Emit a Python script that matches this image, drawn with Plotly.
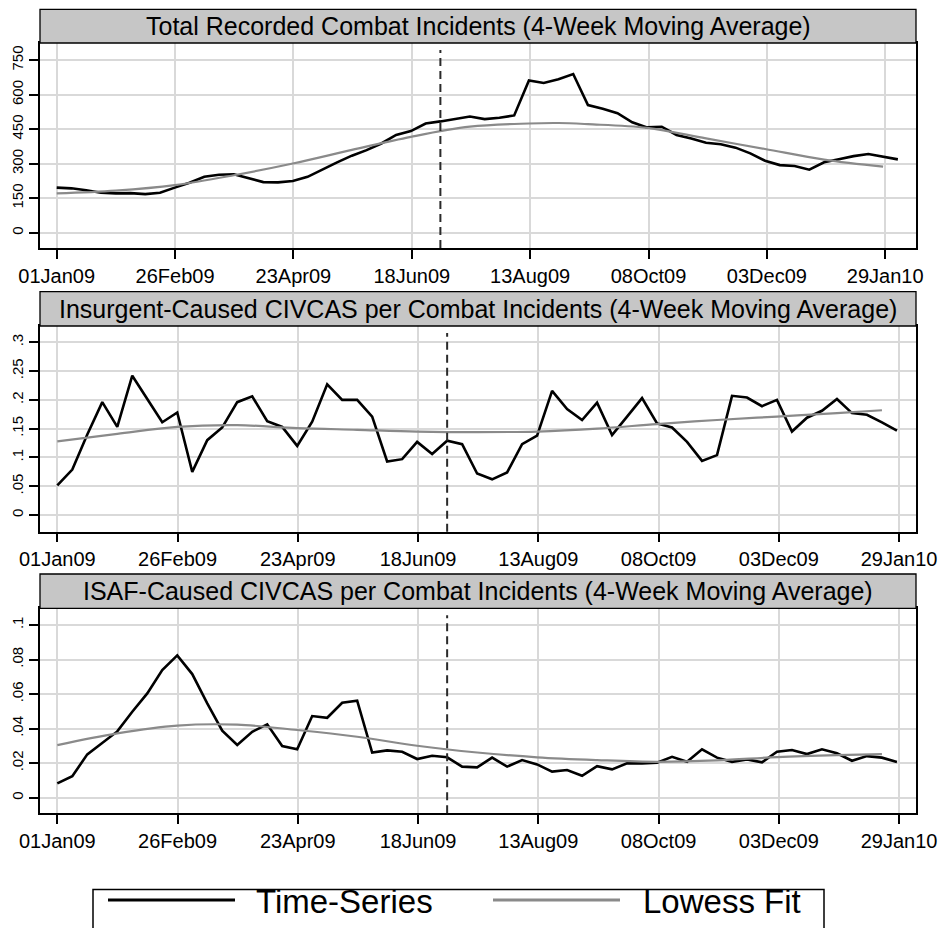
import pandas as pd
import plotly.graph_objects as go

W, H = 945, 928
FONT = "Liberation Sans"

# ---------------- data ----------------
start = pd.Timestamp("2009-01-01")
tick_labels = ["01Jan09", "26Feb09", "23Apr09", "18Jun09", "13Aug09", "08Oct09", "03Dec09", "29Jan10"]
event_date = "2009-07-02"

titles = [
    "Total Recorded Combat Incidents (4-Week Moving Average)",
    "Insurgent-Caused CIVCAS per Combat Incidents (4-Week Moving Average)",
    "ISAF-Caused CIVCAS per Combat Incidents (4-Week Moving Average)",
]

total_incidents = [196, 193, 185, 174, 171, 172, 168, 174, 196, 217, 243, 252, 254, 236, 220, 219,
                   225, 243, 275, 306, 335, 359, 388, 425, 442, 475, 484, 493, 505, 494, 500, 510,
                   662, 651, 667, 690, 555, 539, 520, 480, 458, 461, 425, 410, 391, 385, 370, 345,
                   313, 294, 290, 274, 306, 319, 333, 342, 329, 319]
total_lowess_weeks = [0, 4, 8, 12, 16, 20, 24, 28, 32, 34, 36, 40, 44, 48, 52, 56]
total_lowess = [171, 183, 207, 250, 301, 360, 417, 461, 475, 477, 472, 456, 410, 364, 318, 287]

insurgent_rate = [0.0515, 0.079, 0.14, 0.196, 0.153, 0.242, 0.2015, 0.161, 0.178, 0.075, 0.130,
                  0.152, 0.196, 0.206, 0.163, 0.153, 0.120, 0.162, 0.227, 0.200, 0.200, 0.171,
                  0.093, 0.097, 0.127, 0.106, 0.129, 0.123, 0.072, 0.062, 0.074, 0.123, 0.138,
                  0.2155, 0.184, 0.165, 0.195, 0.139, 0.171, 0.203, 0.159, 0.152, 0.127, 0.094,
                  0.104, 0.207, 0.204, 0.189, 0.200, 0.145, 0.169, 0.181, 0.2015, 0.177, 0.174,
                  0.161, 0.1465]
insurgent_lowess_weeks = [0, 4, 8, 12, 16, 20, 24, 28, 32, 36, 40, 44, 48, 52, 55]
insurgent_lowess = [0.128, 0.141, 0.153, 0.156, 0.151, 0.148, 0.145, 0.144, 0.145, 0.150, 0.158,
                    0.165, 0.171, 0.177, 0.182]

isaf_rate = [0.0083, 0.0125, 0.0251, 0.0315, 0.0384, 0.0498, 0.0604, 0.0739, 0.0824, 0.0716,
             0.0546, 0.0388, 0.0305, 0.0382, 0.0425, 0.0299, 0.0280, 0.0473, 0.0463, 0.0550,
             0.0562, 0.0261, 0.0274, 0.0266, 0.0224, 0.0243, 0.0234, 0.0180, 0.0176, 0.0232,
             0.0180, 0.0218, 0.0193, 0.0151, 0.0160, 0.0127, 0.0183, 0.0164, 0.0199, 0.0199,
             0.0203, 0.0237, 0.0208, 0.0280, 0.0232, 0.0208, 0.0222, 0.0205, 0.0266, 0.0276,
             0.0253, 0.0280, 0.0257, 0.0214, 0.0241, 0.0232, 0.0207]
isaf_lowess_weeks = [0, 4, 8, 12, 16, 20, 24, 28, 32, 36, 40, 44, 48, 52, 55]
isaf_lowess = [0.0305, 0.0373, 0.0418, 0.0423, 0.0392, 0.0353, 0.0301, 0.0262, 0.0234, 0.0218,
               0.0208, 0.0216, 0.0235, 0.0247, 0.0253]

y_ticks = [
    ([0, 150, 300, 450, 600, 750], ["0", "150", "300", "450", "600", "750"]),
    ([0, 0.05, 0.1, 0.15, 0.2, 0.25, 0.3], ["0", ".05", ".1", ".15", ".2", ".25", ".3"]),
    ([0, 0.02, 0.04, 0.06, 0.08, 0.1], ["0", ".02", ".04", ".06", ".08", ".1"]),
]
y_ranges = [[-66.5, 825], [-0.029, 0.3283], [-0.00903, 0.1097]]
x_ranges_days = [[-7.92, 407.6], [-8.08, 400.9], [-8.08, 400.9]]

# ---------------- layout geometry (pixels) ----------------
plot_left, plot_right = 40, 916
panels_px = [(43, 248), (326, 531.7), (608.3, 813.3)]      # plot area top/bottom
bars_px = [(9.3, 43), (291.7, 326), (574, 608.3)]          # title bar top/bottom


def day(d):
    return (start + pd.Timedelta(days=d)).strftime("%Y-%m-%d %H:%M:%S")


def week_dates(n):
    return [start + pd.Timedelta(days=7 * i) for i in range(n)]


tick_vals = [day(k * 393 / 7) for k in range(8)]

series = [
    (total_incidents, total_lowess_weeks, total_lowess),
    (insurgent_rate, insurgent_lowess_weeks, insurgent_lowess),
    (isaf_rate, isaf_lowess_weeks, isaf_lowess),
]

fig = go.Figure()
shapes = []
annotations = []
layout_axes = {}

for i, (ts, lw_weeks, lw) in enumerate(series):
    n = i + 1
    xa = "x" if n == 1 else f"x{n}"
    ya = "y" if n == 1 else f"y{n}"
    dates = week_dates(len(ts))
    lw_dates = [start + pd.Timedelta(days=7 * w) for w in lw_weeks]

    fig.add_trace(go.Scatter(x=dates, y=ts, mode="lines", xaxis=xa, yaxis=ya,
                             line=dict(color="black", width=2.6), showlegend=False,
                             name="Time-Series"))
    fig.add_trace(go.Scatter(x=lw_dates, y=lw, mode="lines", xaxis=xa, yaxis=ya,
                             line=dict(color="#8a8a8a", width=2.2, shape="spline", smoothing=1.0),
                             showlegend=False, name="Lowess Fit"))

    top, bot = panels_px[i]
    ydom = [1 - bot / H, 1 - top / H]
    xdom = [plot_left / W, plot_right / W]
    common = dict(showline=True, mirror=True, linecolor="black", linewidth=1.5,
                  ticks="outside", tickcolor="black", tickwidth=1.5, ticklen=9,
                  showgrid=True, gridcolor="#d9d9d9", gridwidth=1.6, zeroline=False,
                  automargin=False)
    layout_axes["xaxis" if n == 1 else f"xaxis{n}"] = dict(
        domain=xdom, anchor=ya, type="date",
        range=[day(x_ranges_days[i][0]), day(x_ranges_days[i][1])],
        tickmode="array", tickvals=tick_vals, ticktext=tick_labels,
        tickfont=dict(family=FONT, color="black", size=20), **common)
    layout_axes["yaxis" if n == 1 else f"yaxis{n}"] = dict(
        domain=ydom, anchor=xa, range=y_ranges[i],
        tickmode="array", tickvals=y_ticks[i][0], ticktext=y_ticks[i][1], tickangle=-90,
        tickfont=dict(family=FONT, color="black", size=15), **common)

    # event line
    shapes.append(dict(type="line", xref=xa, yref=f"{ya} domain", x0=event_date, x1=event_date,
                       y0=0, y1=0.966, line=dict(color="#2a2a2a", width=2, dash="8px,5px")))
    # title bar
    btop, bbot = bars_px[i]
    shapes.append(dict(type="rect", xref="paper", yref="paper",
                       x0=plot_left / W, x1=plot_right / W, y0=1 - bbot / H, y1=1 - btop / H,
                       fillcolor="#c6c6c6", line=dict(color="black", width=1.3), layer="above"))
    annotations.append(dict(text=titles[i], xref="paper", yref="paper",
                            x=(plot_left + plot_right) / 2 / W, y=1 - (btop + bbot) / 2 / H,
                            xanchor="center", yanchor="middle", showarrow=False,
                            font=dict(family=FONT, size=25, color="black")))

# legend (drawn box)
shapes.append(dict(type="rect", xref="paper", yref="paper", x0=93 / W, x1=824 / W,
                   y0=-0.05, y1=1 - 889.5 / H, line=dict(color="black", width=1.5),
                   fillcolor="white"))
shapes.append(dict(type="line", xref="paper", yref="paper", x0=108 / W, x1=235 / W,
                   y0=1 - 900 / H, y1=1 - 900 / H, line=dict(color="black", width=3)))
shapes.append(dict(type="line", xref="paper", yref="paper", x0=493 / W, x1=620 / W,
                   y0=1 - 900 / H, y1=1 - 900 / H, line=dict(color="#8a8a8a", width=3)))
annotations.append(dict(text="Time-Series", xref="paper", yref="paper", x=254 / W, y=1 - 901.5 / H,
                        xanchor="left", yanchor="middle", showarrow=False,
                        font=dict(family=FONT, size=33, color="black")))
annotations.append(dict(text="Lowess Fit", xref="paper", yref="paper", x=641 / W, y=1 - 901.5 / H,
                        xanchor="left", yanchor="middle", showarrow=False,
                        font=dict(family=FONT, size=33, color="black")))

fig.update_layout(width=W, height=H, margin=dict(l=0, r=0, t=0, b=0, autoexpand=False),
                  paper_bgcolor="white", plot_bgcolor="white",
                  font=dict(family=FONT, color="black"),
                  shapes=shapes, annotations=annotations, showlegend=False,
                  **layout_axes)

fig.write_html("out.html", config={"displayModeBar": False},
               post_script="document.body.style.margin='0px';document.body.style.overflow='hidden';")
